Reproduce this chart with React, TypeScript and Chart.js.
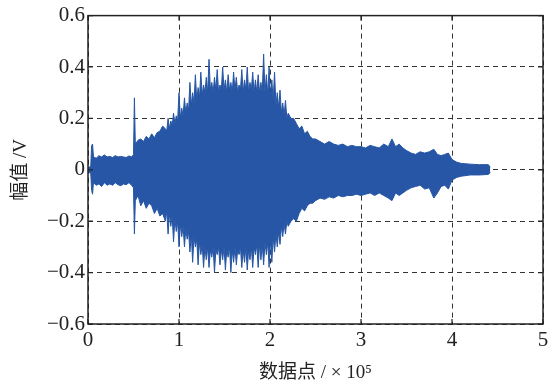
import React, { useEffect, useRef } from "react";
import { Chart, registerables } from "chart.js";

Chart.register(...registerables);

// Envelope of the waveform (x in units of 10^5 samples, amplitude in V)
// Segment A: onset (0 – 0.82)
const xA = [
  0.0, 0.03, 0.04, 0.05, 0.06, 0.09, 0.12, 0.15, 0.18, 0.21,
  0.24, 0.27, 0.3, 0.33, 0.36, 0.39, 0.42, 0.45, 0.48, 0.5,
  0.51, 0.52, 0.55, 0.58, 0.61, 0.64, 0.67, 0.7, 0.73, 0.76,
  0.79, 0.82,
];
const topA = [
  0.01, 0.012, 0.095, 0.1, 0.05, 0.045, 0.055, 0.05, 0.058, 0.05,
  0.052, 0.048, 0.055, 0.05, 0.052, 0.05, 0.048, 0.054, 0.05, 0.06,
  0.28, 0.1, 0.115, 0.12, 0.11, 0.13, 0.12, 0.14, 0.125, 0.145,
  0.15, 0.17,
];
const botA = [
  -0.01, -0.012, -0.08, -0.095, -0.05, -0.06, -0.055, -0.065, -0.05, -0.06,
  -0.055, -0.06, -0.05, -0.058, -0.062, -0.055, -0.058, -0.05, -0.06, -0.07,
  -0.25, -0.12, -0.1, -0.14, -0.12, -0.15, -0.13, -0.14, -0.17, -0.15,
  -0.18, -0.17,
];
// Segment B: main burst (0.85 – 2.2)
const xB = [
  0.85, 0.865, 0.88, 0.895, 0.91, 0.925, 0.94, 0.955, 0.97, 0.985,
  1.0, 1.015, 1.03, 1.045, 1.06, 1.075, 1.09, 1.105, 1.12, 1.135,
  1.15, 1.165, 1.18, 1.195, 1.21, 1.225, 1.24, 1.255, 1.27, 1.285,
  1.3, 1.315, 1.33, 1.345, 1.36, 1.375, 1.39, 1.405, 1.42, 1.435,
  1.45, 1.465, 1.48, 1.495, 1.51, 1.525, 1.54, 1.555, 1.57, 1.585,
  1.6, 1.615, 1.63, 1.645, 1.66, 1.675, 1.69, 1.705, 1.72, 1.735,
  1.75, 1.765, 1.78, 1.795, 1.81, 1.825, 1.84, 1.855, 1.87, 1.885,
  1.9, 1.915, 1.93, 1.945, 1.96, 1.975, 1.99, 2.005, 2.02, 2.035,
  2.05, 2.065, 2.08, 2.095, 2.11, 2.125, 2.14, 2.155, 2.17, 2.185,
  2.2,
];
const topB = [
  0.16, 0.15, 0.2, 0.16, 0.19, 0.17, 0.22, 0.18, 0.21, 0.19,
  0.3, 0.2, 0.24, 0.21, 0.28, 0.22, 0.26, 0.23, 0.34, 0.25,
  0.3, 0.26, 0.37, 0.27, 0.32, 0.28, 0.38, 0.29, 0.33, 0.3,
  0.36, 0.3, 0.43, 0.31, 0.34, 0.3, 0.36, 0.31, 0.39, 0.3,
  0.33, 0.31, 0.4, 0.31, 0.35, 0.3, 0.37, 0.31, 0.34, 0.3,
  0.38, 0.31, 0.36, 0.3, 0.33, 0.31, 0.39, 0.3, 0.35, 0.31,
  0.4, 0.3, 0.34, 0.31, 0.38, 0.3, 0.35, 0.3, 0.37, 0.3,
  0.34, 0.3, 0.45, 0.3, 0.37, 0.29, 0.4, 0.28, 0.35, 0.27,
  0.38, 0.25, 0.3, 0.24, 0.31, 0.22, 0.26, 0.21, 0.27, 0.2,
  0.22,
];
const botB = [
  -0.2, -0.16, -0.25, -0.17, -0.22, -0.18, -0.28, -0.19, -0.24, -0.2,
  -0.3, -0.21, -0.26, -0.22, -0.3, -0.23, -0.27, -0.24, -0.32, -0.25,
  -0.36, -0.26, -0.3, -0.27, -0.37, -0.28, -0.33, -0.29, -0.38, -0.3,
  -0.35, -0.3, -0.38, -0.31, -0.34, -0.3, -0.4, -0.31, -0.33, -0.3,
  -0.37, -0.31, -0.35, -0.3, -0.39, -0.31, -0.34, -0.3, -0.4, -0.31,
  -0.36, -0.3, -0.37, -0.31, -0.33, -0.3, -0.38, -0.31, -0.36, -0.3,
  -0.39, -0.31, -0.35, -0.3, -0.38, -0.3, -0.33, -0.29, -0.38, -0.29,
  -0.35, -0.29, -0.37, -0.28, -0.33, -0.28, -0.38, -0.27, -0.36, -0.26,
  -0.32, -0.25, -0.3, -0.24, -0.29, -0.22, -0.26, -0.21, -0.25, -0.2,
  -0.22,
];
// Segment C: decay (2.23 – 4.42)
const xC = [
  2.23, 2.26, 2.29, 2.32, 2.35, 2.38, 2.41, 2.44, 2.47, 2.5,
  2.55, 2.6, 2.65, 2.7, 2.75, 2.8, 2.85, 2.9, 2.95, 3.0,
  3.05, 3.1, 3.15, 3.2, 3.25, 3.3, 3.34, 3.38, 3.42, 3.46,
  3.5, 3.55, 3.6, 3.65, 3.7, 3.75, 3.8, 3.84, 3.88, 3.92,
  3.96, 4.0, 4.05, 4.1, 4.2, 4.3, 4.4, 4.42,
];
const topC = [
  0.2, 0.2, 0.18, 0.16, 0.17, 0.14, 0.15, 0.13, 0.12, 0.12,
  0.11, 0.1, 0.11, 0.1, 0.095, 0.1, 0.09, 0.095, 0.09, 0.09,
  0.085, 0.095, 0.09, 0.085, 0.1, 0.09, 0.12, 0.09, 0.1, 0.085,
  0.075, 0.065, 0.06, 0.07, 0.065, 0.07, 0.08, 0.06, 0.055, 0.06,
  0.065, 0.04, 0.03, 0.025, 0.022, 0.02, 0.02, 0.01,
];
const botC = [
  -0.2, -0.19, -0.2, -0.17, -0.15, -0.16, -0.14, -0.13, -0.13, -0.12,
  -0.11, -0.115, -0.105, -0.11, -0.1, -0.105, -0.1, -0.1, -0.095, -0.1,
  -0.095, -0.09, -0.1, -0.09, -0.1, -0.11, -0.12, -0.09, -0.1, -0.09,
  -0.08, -0.07, -0.065, -0.06, -0.075, -0.07, -0.11, -0.09, -0.065, -0.06,
  -0.075, -0.04, -0.03, -0.025, -0.02, -0.02, -0.018, -0.01,
];

const envX = [...xA, ...xB, ...xC];
const envTop = [...topA, ...topB, ...topC];
const envBottom = [...botA, ...botB, ...botC];

const xTicks = [0, 1, 2, 3, 4, 5];
const yTicks = [-0.6, -0.4, -0.2, 0, 0.2, 0.4, 0.6];
const yTitle = "幅值 /V";
const xTitle = "数据点 / × 10⁵";

const BLUE = "rgb(38, 86, 165)";
const FONT = "'Liberation Serif', 'Noto Sans CJK SC', serif";

const framePlugin = {
  id: "frame",
  afterDatasetsDraw(chart: any) {
    const { ctx, chartArea } = chart;
    const { left, right, top, bottom } = chartArea;
    const xs = chart.scales.x;
    const ys = chart.scales.y;
    ctx.save();
    ctx.strokeStyle = "#222";
    ctx.lineWidth = 1.2;
    ctx.setLineDash([]);
    ctx.beginPath();
    xTicks.forEach((v) => {
      const px = xs.getPixelForValue(v);
      ctx.moveTo(px, bottom);
      ctx.lineTo(px, bottom - 5);
      ctx.moveTo(px, top);
      ctx.lineTo(px, top + 5);
    });
    yTicks.forEach((v) => {
      const py = ys.getPixelForValue(v);
      ctx.moveTo(left, py);
      ctx.lineTo(left + 5, py);
      ctx.moveTo(right, py);
      ctx.lineTo(right - 5, py);
    });
    ctx.stroke();
    ctx.lineWidth = 1.5;
    ctx.strokeRect(left, top, right - left, bottom - top);
    ctx.restore();
  },
};

export default function App() {
  const ref = useRef<HTMLCanvasElement | null>(null);
  useEffect(() => {
    document.body.style.margin = "0";
    const topPts = envX.map((x, i) => ({ x, y: envTop[i] }));
    const botPts = envX.map((x, i) => ({ x, y: envBottom[i] }));
    const chart = new Chart(ref.current as HTMLCanvasElement, {
      type: "line",
      data: {
        datasets: [
          {
            data: topPts,
            borderColor: BLUE,
            backgroundColor: BLUE,
            borderWidth: 1,
            pointRadius: 0,
            fill: "+1",
            tension: 0,
          },
          {
            data: botPts,
            borderColor: BLUE,
            backgroundColor: BLUE,
            borderWidth: 1,
            pointRadius: 0,
            fill: false,
            tension: 0,
          },
        ],
      },
      options: {
        animation: false,
        responsive: true,
        maintainAspectRatio: false,
        layout: { padding: { left: 10, right: 10, top: 15, bottom: 0 } },
        plugins: { legend: { display: false }, tooltip: { enabled: false } },
        scales: {
          x: {
            type: "linear",
            min: 0,
            max: 5,
            afterBuildTicks: (s: any) => {
              s.ticks = xTicks.map((v) => ({ value: v }));
            },
            afterFit: (s: any) => {
              s.height = 62;
            },
            ticks: {
              color: "#222",
              font: { family: FONT, size: 21 },
              padding: 4,
              maxRotation: 0,
              callback: (v: any) => String(v),
            },
            grid: { color: "#333", lineWidth: 1, drawTicks: false, tickLength: 0 },
            border: { display: false, dash: [5, 4] },
            title: {
              display: true,
              text: xTitle,
              color: "#222",
              font: { family: FONT, size: 19 },
              padding: { top: 0, bottom: 2 },
            },
          },
          y: {
            type: "linear",
            min: -0.6,
            max: 0.6,
            afterBuildTicks: (s: any) => {
              s.ticks = yTicks.map((v) => ({ value: v }));
            },
            afterFit: (s: any) => {
              s.width = 78;
            },
            ticks: {
              color: "#222",
              font: { family: FONT, size: 21 },
              padding: 3,
              callback: (v: any) => {
                const n = Number(v);
                if (Math.abs(n) < 1e-9) return "0";
                return (n < 0 ? "\u2212" : "") + Math.abs(n).toFixed(1);
              },
            },
            grid: { color: "#333", lineWidth: 1, drawTicks: false, tickLength: 0 },
            border: { display: false, dash: [5, 4] },
            title: {
              display: true,
              text: yTitle,
              color: "#222",
              font: { family: FONT, size: 19 },
              padding: { top: 0, bottom: 0 },
            },
          },
        },
      },
      plugins: [framePlugin],
    });
    return () => chart.destroy();
  }, []);
  return (
    <div style={{ width: 553, height: 386, position: "relative" }}>
      <canvas ref={ref} />
    </div>
  );
}
